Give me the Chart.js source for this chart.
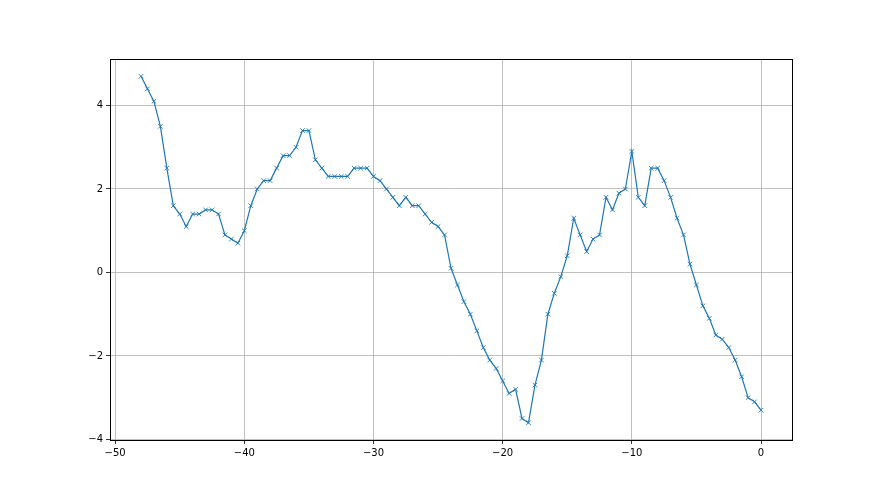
<!DOCTYPE html>
<html>
<head>
<meta charset="utf-8">
<script src="https://cdn.jsdelivr.net/npm/chart.js@4/dist/chart.umd.min.js"></script>
<style>
  html, body { margin: 0; padding: 0; background: #fff; }
  canvas { display: block; }
</style>
</head>
<body>
<canvas id="chart" width="880" height="495"></canvas>
<script>
// x runs from -48 to 0 in steps of 0.5
const xValues = [
  -48, -47.5, -47, -46.5, -46, -45.5, -45, -44.5, -44, -43.5,
  -43, -42.5, -42, -41.5, -41, -40.5, -40, -39.5, -39, -38.5,
  -38, -37.5, -37, -36.5, -36, -35.5, -35, -34.5, -34, -33.5,
  -33, -32.5, -32, -31.5, -31, -30.5, -30, -29.5, -29, -28.5,
  -28, -27.5, -27, -26.5, -26, -25.5, -25, -24.5, -24, -23.5,
  -23, -22.5, -22, -21.5, -21, -20.5, -20, -19.5, -19, -18.5,
  -18, -17.5, -17, -16.5, -16, -15.5, -15, -14.5, -14, -13.5,
  -13, -12.5, -12, -11.5, -11, -10.5, -10, -9.5, -9, -8.5,
  -8, -7.5, -7, -6.5, -6, -5.5, -5, -4.5, -4, -3.5,
  -3, -2.5, -2, -1.5, -1, -0.5, 0
];
const yValues = [
  4.7, 4.4, 4.1, 3.5, 2.5, 1.6, 1.4, 1.1, 1.4, 1.4,
  1.5, 1.5, 1.4, 0.9, 0.8, 0.7, 1.0, 1.6, 2.0, 2.2,
  2.2, 2.5, 2.8, 2.8, 3.0, 3.4, 3.4, 2.7, 2.5, 2.3,
  2.3, 2.3, 2.3, 2.5, 2.5, 2.5, 2.3, 2.2, 2.0, 1.8,
  1.6, 1.8, 1.6, 1.6, 1.4, 1.2, 1.1, 0.9, 0.1, -0.3,
  -0.7, -1.0, -1.4, -1.8, -2.1, -2.3, -2.6, -2.9, -2.8, -3.5,
  -3.6, -2.7, -2.1, -1.0, -0.5, -0.1, 0.4, 1.3, 0.9, 0.5,
  0.8, 0.9, 1.8, 1.5, 1.9, 2.0, 2.9, 1.8, 1.6, 2.5,
  2.5, 2.2, 1.8, 1.3, 0.9, 0.2, -0.3, -0.8, -1.1, -1.5,
  -1.6, -1.8, -2.1, -2.5, -3.0, -3.1, -3.3
];
const xTicks = [-50, -40, -30, -20, -10, 0];
const yTicks = [-4, -2, 0, 2, 4];

const points = xValues.map((x, i) => ({ x: x, y: yValues[i] }));
const minus = v => String(v).replace('-', '\u2212');

// black frame around the plot area, like matplotlib's spines
const frame = {
  id: 'frame',
  afterDraw(chart) {
    const { ctx, chartArea: a } = chart;
    ctx.save();
    ctx.strokeStyle = '#000';
    ctx.lineWidth = 1;
    ctx.strokeRect(Math.round(a.left) + 0.5, Math.round(a.top) + 0.5,
      Math.round(a.right - a.left), Math.round(a.bottom - a.top));
    ctx.restore();
  }
};

new Chart(document.getElementById('chart'), {
  type: 'scatter',
  data: {
    datasets: [{
      data: points,
      showLine: true,
      borderColor: '#1f77b4',
      backgroundColor: '#1f77b4',
      borderWidth: 1.2,
      pointStyle: 'crossRot',
      pointRadius: 3.2,
      pointBorderWidth: 0.9,
      pointHoverRadius: 3.2
    }]
  },
  options: {
    responsive: false,
    animation: false,
    layout: { padding: { top: 59, right: 88, left: 0, bottom: 0 } },
    plugins: { legend: { display: false }, tooltip: { enabled: false } },
    scales: {
      x: {
        type: 'linear',
        min: -50.4,
        max: 2.4,
        afterBuildTicks: axis => { axis.ticks = xTicks.map(v => ({ value: v })); },
        afterFit: axis => { axis.height = 55; },
        grid: { color: '#b0b0b0', lineWidth: 0.8, tickColor: '#000', tickLength: 4 },
        border: { color: '#000' },
        ticks: {
          color: '#000',
          padding: 3,
          maxRotation: 0,
          font: { family: 'DejaVu Sans', size: 10 },
          callback: v => minus(v)
        }
      },
      y: {
        type: 'linear',
        min: -4.015,
        max: 5.115,
        afterBuildTicks: axis => { axis.ticks = yTicks.map(v => ({ value: v })); },
        afterFit: axis => { axis.width = 110; },
        grid: { color: '#b0b0b0', lineWidth: 0.8, tickColor: '#000', tickLength: 4 },
        border: { color: '#000' },
        ticks: {
          color: '#000',
          padding: 3,
          font: { family: 'DejaVu Sans', size: 10 },
          callback: v => minus(v)
        }
      }
    }
  },
  plugins: [frame]
});
</script>
</body>
</html>
